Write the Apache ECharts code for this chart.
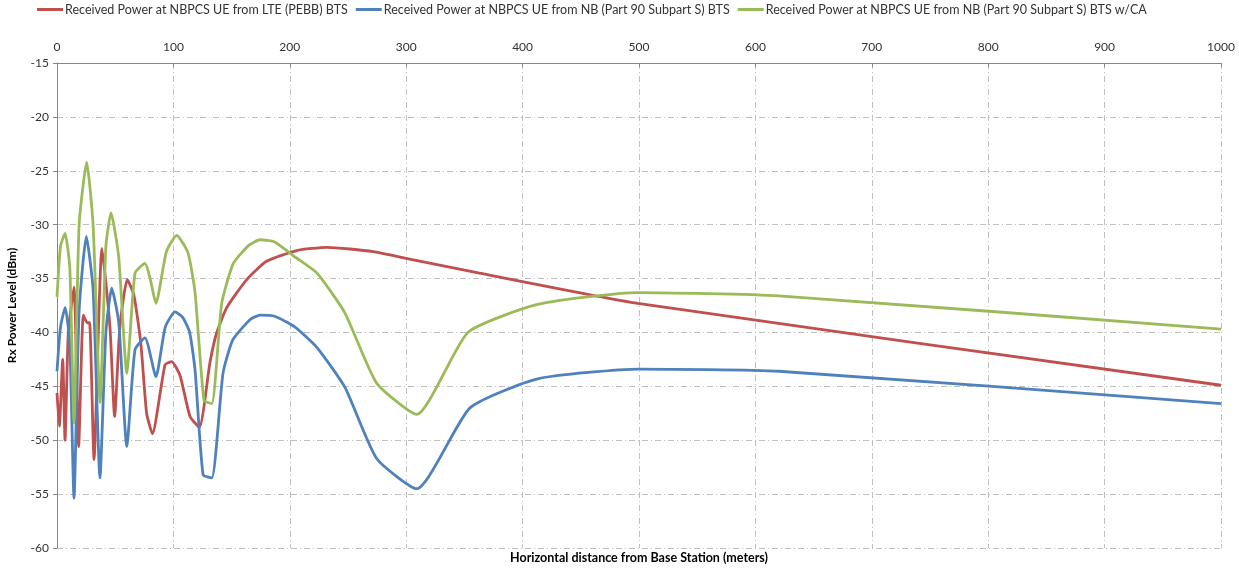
<!DOCTYPE html>
<html>
<head>
<meta charset="utf-8">
<title>Rx Power Level vs distance</title>
<script src="https://cdn.jsdelivr.net/npm/echarts@6/dist/echarts.min.js"></script>
<style>
    html, body { margin: 0; padding: 0; background: #fff; }
    #chart { width: 1239px; height: 569px; }
</style>
</head>
<body>
<div id="chart"></div>
<script>
// series names
const seriesNames = [
    'Received Power at NBPCS UE from LTE (PEBB) BTS',
    'Received Power at NBPCS UE from NB (Part 90 Subpart S) BTS',
    'Received Power at NBPCS UE from NB (Part 90 Subpart S) BTS w/CA',
];

// LTE (PEBB) BTS
const lteDist = [0, 2, 4.9, 6.9, 9.7, 14.6, 18.6, 22.6, 26, 28, 31.8, 38.6, 45.5, 49.5, 54, 60.4, 66, 72, 77, 82, 92.8, 98.5, 105.7, 114.3, 122.3, 131.4, 137, 145.8, 163, 180, 206, 231.7, 271.6, 303, 363, 499, 1000];
const ltePower = [-45.6, -48.7, -42.5, -50, -40.1, -35.8, -50.6, -38.4, -39.1, -39.1, -51.8, -32.2, -39.5, -47.8, -39.5, -35.1, -36.5, -41, -47.5, -49.4, -43, -42.7, -44, -47.8, -48.8, -42.8, -40.1, -37.7, -35.1, -33.4, -32.4, -32.1, -32.5, -33.2, -34.5, -37.3, -44.9];

// NB (Part 90 Subpart S) BTS
const nbDist = [0, 3, 7, 11, 14.6, 19, 25.2, 31, 36.9, 42, 47, 53, 60, 67, 75.6, 85, 93, 101.4, 108, 114, 118.6, 125.5, 133, 142.6, 151, 166, 174.4, 187, 204.5, 223.4, 247.4, 274.6, 309, 354.8, 413, 500, 620, 1000];
const nbPower = [-43.6, -39.5, -37.7, -41, -55.4, -38, -31.1, -36, -53.5, -40, -35.9, -39, -50.6, -41.6, -40.5, -44.1, -39.5, -38.1, -38.6, -40, -43.5, -53.2, -53.5, -43.8, -40.7, -38.8, -38.4, -38.5, -39.5, -41.4, -45.1, -51.7, -54.5, -47, -44.3, -43.4, -43.6, -46.6];

// NB (Part 90 Subpart S) BTS w/CA
const caDist = [0, 3, 6.9, 11, 14.6, 19, 25.5, 31, 37, 42, 46.4, 53, 60, 67, 75.6, 80, 85, 94, 102.8, 112.5, 118.6, 126.3, 133, 141.5, 151.5, 165, 174.4, 187, 204.5, 223.4, 247.4, 274.6, 309, 353, 413, 499, 620, 1000];
const caPower = [-36.7, -32, -30.8, -34, -48.4, -30, -24.2, -30, -46.5, -32, -28.9, -33, -43.8, -34.5, -33.6, -35, -37.3, -32.5, -31.0, -32.6, -36.3, -46.3, -46.6, -37.3, -33.6, -31.9, -31.4, -31.6, -33, -34.5, -38.2, -44.7, -47.6, -40, -37.4, -36.3, -36.6, -39.7];

const colors = ['#C0504D', '#4F81BD', '#9BBB59'];
const dashDot = [6, 3, 1, 3];
const font = 'Lato, "Open Sans", sans-serif';

function pairs(xs, ys) {
    return xs.map((x, i) => [x, ys[i]]);
}

const chart = echarts.init(document.getElementById('chart'));

const option = {
    animation: false,
    color: colors,
    textStyle: { fontFamily: font },
    legend: {
        top: 3,
        left: 37,
        padding: 0,
        icon: 'rect',
        itemWidth: 26,
        itemHeight: 3,
        itemGap: 8,
        textStyle: { fontSize: 12.5, color: '#333', fontFamily: font, padding: [0, 0, 0, -3] },
        data: seriesNames,
    },
    grid: { left: 57, right: 18, top: 63, bottom: 21, outerBoundsMode: 'none' },
    xAxis: {
        type: 'value',
        position: 'top',
        min: 0,
        max: 1000,
        interval: 100,
        axisLine: { lineStyle: { color: '#868686' } },
        axisTick: { inside: true, length: 4, lineStyle: { color: '#868686' } },
        axisLabel: { fontSize: 12, color: '#333', margin: 10, formatter: (v) => String(v) },
        splitLine: { lineStyle: { color: '#bfbfbf', type: dashDot } },
    },
    yAxis: {
        type: 'value',
        min: -60,
        max: -15,
        interval: 5,
        name: 'Rx Power Level (dBm)',
        nameLocation: 'middle',
        nameGap: 39,
        nameTextStyle: { fontSize: 12, fontWeight: 'bold', color: '#000' },
        axisLine: { show: true, lineStyle: { color: '#868686' } },
        axisTick: { show: true, length: 4, lineStyle: { color: '#868686' } },
        axisLabel: { fontSize: 12, color: '#333', margin: 8 },
        splitLine: { lineStyle: { color: '#bfbfbf', type: dashDot } },
    },
    graphic: [
        {
            type: 'text',
            x: 639,
            y: 558,
            style: {
                text: 'Horizontal distance from Base Station (meters)',
                fontSize: 12.5,
                fontWeight: 'bold',
                fontFamily: font,
                fill: '#000',
                textAlign: 'center',
                textVerticalAlign: 'middle',
            },
        },
    ],
    series: [
        { name: seriesNames[0], data: pairs(lteDist, ltePower) },
        { name: seriesNames[1], data: pairs(nbDist, nbPower) },
        { name: seriesNames[2], data: pairs(caDist, caPower) },
    ].map((s) => ({
        ...s,
        type: 'line',
        smooth: 0.18,
        showSymbol: false,
        lineStyle: { width: 2.8 },
    })),
};

chart.setOption(option);
</script>
</body>
</html>
